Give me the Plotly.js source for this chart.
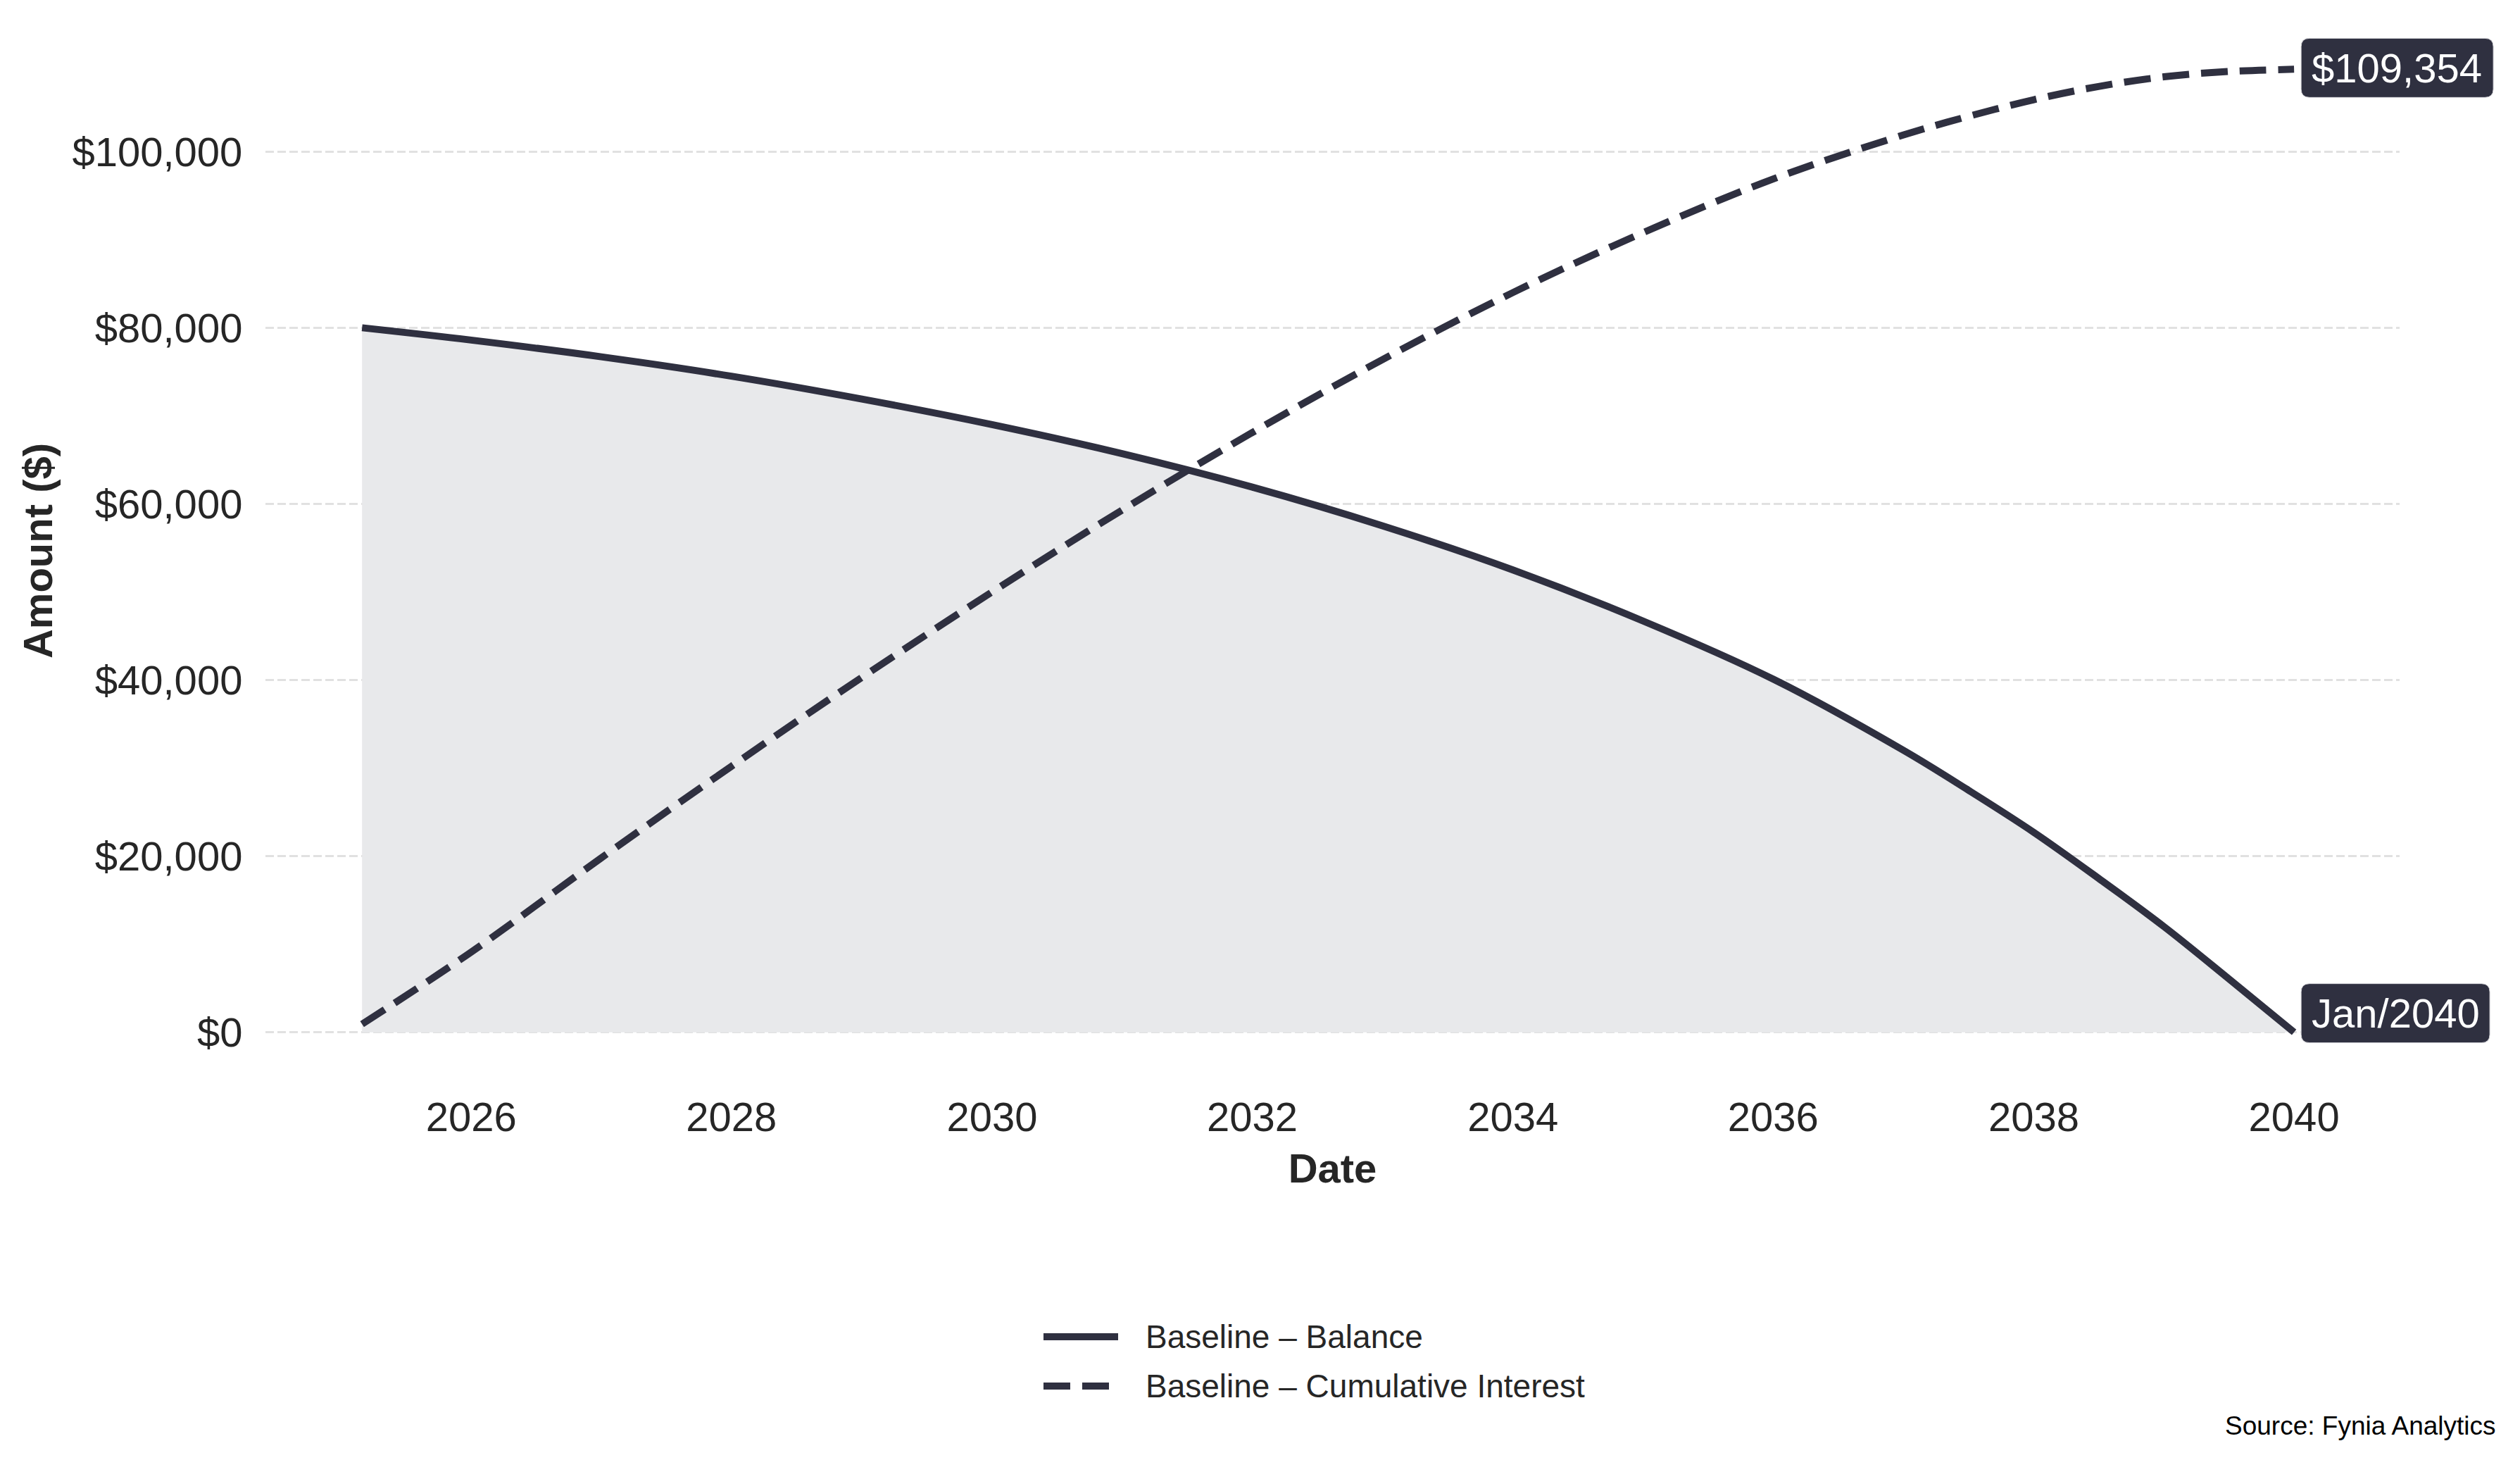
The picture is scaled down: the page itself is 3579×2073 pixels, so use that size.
<!DOCTYPE html>
<html>
<head>
<meta charset="utf-8">
<script src="https://cdn.plot.ly/plotly-3.0.1.min.js"></script>
<style>html,body{margin:0;padding:0;background:#fff;}#chart{width:3579px;height:2073px;}</style>
</head>
<body>
<div id="chart"></div>
<script>
const dates = ['2025-03-01','2026-01-01','2027-01-01','2028-01-01','2029-01-01','2030-01-01','2031-01-01','2032-01-01','2033-01-01','2034-01-01','2035-01-01','2036-01-01','2037-01-01','2037-07-01','2038-01-01','2038-07-01','2039-01-01','2039-07-01','2040-01-01'];
const balance = [80000, 78600, 76700, 74500, 71900, 69000, 65700, 61900, 57500, 52500, 46700, 40100, 32000, 27500, 22700, 17500, 12000, 6100, 0];
const cumInterest = [920, 9100, 19800, 30200, 40300, 50000, 59300, 68100, 76400, 84000, 90800, 96900, 101900, 104000, 105900, 107400, 108500, 109100, 109354];
const seriesNames = ['Baseline \u2013 Balance', 'Baseline \u2013 Cumulative Interest'];
const yTicks = [0, 20000, 40000, 60000, 80000, 100000];
const xTicks = ['2026-01-01','2028-01-01','2030-01-01','2032-01-01','2034-01-01','2036-01-01','2038-01-01','2040-01-01'];
const sourceText = 'Source: Fynia Analytics';

const INK = '#2f3040';
const FONT = 'Liberation Sans, Arial, Helvetica, sans-serif';
const TEXT = '#262626';
const X_RANGE = ['2024-06-03', '2040-10-23'];
const Y_RANGE = [-5468, 114822];
const lastDate = dates[dates.length - 1];
const lastInterest = cumInterest[cumInterest.length - 1];
const lastBalance = balance[balance.length - 1];
const fmtMoney = v => '$' + Math.round(v).toLocaleString('en-US');
const endLabel = (() => { const d = new Date(lastDate + 'T00:00:00Z'); const m = ['Jan','Feb','Mar','Apr','May','Jun','Jul','Aug','Sep','Oct','Nov','Dec'][d.getUTCMonth()]; return m + '/' + d.getUTCFullYear(); })();

// plot-area geometry (pixels) used for paper-referenced decorations
const PLOT = {l: 377, r: 3408, t: 30, b: 1534};
const px2paperX = px => (px - PLOT.l) / (PLOT.r - PLOT.l);
const px2paperY = py => (PLOT.b - py) / (PLOT.b - PLOT.t);
const date2paperX = d => (Date.parse(d + 'T00:00:00Z') - Date.parse(X_RANGE[0] + 'T00:00:00Z')) / (Date.parse(X_RANGE[1] + 'T00:00:00Z') - Date.parse(X_RANGE[0] + 'T00:00:00Z'));
const val2paperY = v => (v - Y_RANGE[0]) / (Y_RANGE[1] - Y_RANGE[0]);

function roundRect(x0, x1, y0, y1, r) {
  // pixel offsets, y positive upward; y0 bottom, y1 top
  return `M${x0 + r},${y0} L${x1 - r},${y0} Q${x1},${y0} ${x1},${y0 + r} L${x1},${y1 - r} Q${x1},${y1} ${x1 - r},${y1} L${x0 + r},${y1} Q${x0},${y1} ${x0},${y1 - r} L${x0},${y0 + r} Q${x0},${y0} ${x0 + r},${y0} Z`;
}

const traces = [
  {
    x: dates, y: balance, type: 'scatter', mode: 'lines', name: seriesNames[0],
    line: {color: INK, width: 10, shape: 'spline', smoothing: 1},
    fill: 'tozeroy', fillcolor: '#e8e9eb', showlegend: false
  },
  {
    x: dates, y: cumInterest, type: 'scatter', mode: 'lines', name: seriesNames[1],
    line: {color: INK, width: 10, dash: '38px,17px', shape: 'spline', smoothing: 1},
    showlegend: false
  }
];

// legend (drawn as decorations to match the long sample lines)
const legendRows = [{name: seriesNames[0], dash: 'solid', py: 1898}, {name: seriesNames[1], dash: '38px,17px', py: 1968}];
const legendShapes = legendRows.map(r => ({
  type: 'line', xref: 'paper', yref: 'paper',
  x0: px2paperX(1482), x1: px2paperX(1588), y0: px2paperY(r.py), y1: px2paperY(r.py),
  line: {color: INK, width: 10, dash: r.dash}
}));
const legendTexts = legendRows.map(r => ({
  xref: 'paper', yref: 'paper', x: px2paperX(1625), y: px2paperY(r.py),
  text: r.name, showarrow: false, xanchor: 'left', yanchor: 'middle',
  font: {family: FONT, size: 46, color: TEXT}
}));

const layout = {
  width: 3579, height: 2073, autosize: false,
  margin: {l: PLOT.l, r: 3579 - PLOT.r, t: PLOT.t, b: 2073 - PLOT.b, pad: 0},
  paper_bgcolor: '#ffffff', plot_bgcolor: '#ffffff',
  font: {family: FONT, color: TEXT, size: 58},
  showlegend: false,
  xaxis: {
    type: 'date', range: X_RANGE,
    tickvals: xTicks, tickformat: '%Y',
    showgrid: false, zeroline: false, showline: false,
    ticks: 'outside', ticklen: 1, tickcolor: 'rgba(0,0,0,0)',
    tickfont: {family: FONT, size: 58, color: TEXT},
    title: {text: '<b>Date</b>', font: {family: FONT, size: 58, color: TEXT}, standoff: 21}
  },
  yaxis: {
    range: Y_RANGE, tickvals: yTicks, ticktext: yTicks.map(fmtMoney),
    showgrid: true, gridcolor: '#e1e1e1', gridwidth: 3, griddash: '12px,5px',
    zeroline: false, showline: false,
    ticks: 'outside', ticklen: 20, tickcolor: 'rgba(0,0,0,0)',
    tickfont: {family: FONT, size: 58, color: TEXT},
    title: {text: '<b>Amount ($)</b>', font: {family: FONT, size: 58, color: TEXT}, standoff: 9}
  },
  shapes: [
    {type: 'path', xref: 'paper', yref: 'paper', xsizemode: 'pixel', ysizemode: 'pixel',
     xanchor: date2paperX(lastDate), yanchor: val2paperY(lastInterest), path: roundRect(10, 283, -40, 44, 12),
     fillcolor: INK, line: {color: '#d9d9dd', width: 1}, layer: 'above'},
    {type: 'path', xref: 'paper', yref: 'paper', xsizemode: 'pixel', ysizemode: 'pixel',
     xanchor: date2paperX(lastDate), yanchor: val2paperY(lastBalance), path: roundRect(10, 278, -15, 69, 12),
     fillcolor: INK, line: {color: '#d9d9dd', width: 1}, layer: 'above'}
  ].concat(legendShapes),
  annotations: [
    {x: lastDate, y: lastInterest, xref: 'x', yref: 'y', text: fmtMoney(lastInterest), showarrow: false,
     xanchor: 'center', yanchor: 'middle', xshift: 146, yshift: 2,
     font: {family: FONT, size: 58, color: '#ffffff'}},
    {x: lastDate, y: lastBalance, xref: 'x', yref: 'y', text: endLabel, showarrow: false,
     xanchor: 'center', yanchor: 'middle', xshift: 144, yshift: 27,
     font: {family: FONT, size: 58, color: '#ffffff'}},
    {x: px2paperX(3547), y: px2paperY(2024), xref: 'paper', yref: 'paper', text: sourceText, showarrow: false,
     xanchor: 'right', yanchor: 'middle', font: {family: FONT, size: 37, color: '#000000'}}
  ].concat(legendTexts)
};

Plotly.newPlot('chart', traces, layout, {staticPlot: true, displayModeBar: false});
</script>
</body>
</html>
